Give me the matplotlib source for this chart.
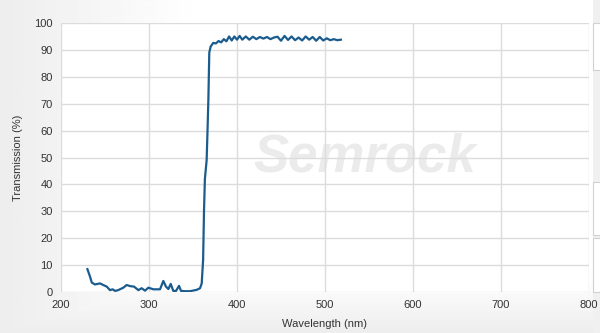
import numpy as np
import matplotlib
matplotlib.use('Agg')
import matplotlib.pyplot as plt
from matplotlib.patches import Rectangle

# transmission spectrum
wavelength = [230, 233, 235, 238.6, 244.3, 248, 252, 255.7, 258.7, 261.4, 265, 270.8, 274.6,
              278.4, 283, 287.9, 291.7, 295.5, 299.3, 305, 312.5, 316.3, 319.3, 322, 324.7,
              327.6, 330.7, 334.1, 336.4, 341, 346.6, 354.2, 358, 359.9, 361.5, 362.5, 363.5,
              365.5, 366.5, 367.5, 368.5, 370, 373, 376, 379, 382, 385, 388, 391,
              394, 397, 400, 403, 406, 410, 414, 418, 422, 426, 430, 434, 438, 442,
              446, 450, 454, 458, 462, 466, 470, 474, 478, 482, 486, 490, 494, 498, 502, 506,
              510, 514, 518]
transmission = [8.5, 5.7, 3.5, 2.8, 3.2, 2.6, 2.0, 0.7, 1.0, 0.4, 0.7, 1.6, 2.6,
                2.2, 2.0, 0.7, 1.4, 0.5, 1.6, 1.0, 1.0, 4.1, 2.0, 1.1, 3.0,
                0.4, 0.4, 2.3, 0.4, 0.3, 0.3, 0.8, 1.4, 3.2, 12, 30, 42,
                49, 60, 72, 89, 91.2, 92.6, 92.4, 93.3, 92.8, 94.0, 93.2, 95.0,
                93.5, 95.0, 93.8, 95.2, 93.8, 95.0, 93.8, 94.9, 94.0, 94.8, 94.2, 94.8, 94.0, 94.6,
                94.9, 93.4, 95.2, 93.7, 95.0, 93.6, 94.6, 93.5, 95.0, 93.8, 94.8, 93.4, 94.8, 93.5, 94.3, 93.6,
                94.0, 93.6, 93.8]

xticks = [200, 300, 400, 500, 600, 700, 800]
yticks = [0, 10, 20, 30, 40, 50, 60, 70, 80, 90, 100]

plt.rcParams['font.family'] = ['Liberation Sans', 'DejaVu Sans']

fig = plt.figure(figsize=(6, 3.33), dpi=100)

# soft gray background, lighter toward the right
bg = fig.add_axes([0, 0, 1, 1], zorder=-10)
gx = np.linspace(0, 1, 300)
gy = np.linspace(0, 1, 200)
GX, GY = np.meshgrid(gx, gy)
shade = 0.93 + 0.07 * np.clip(np.minimum(GX * 3.0, (1 - GY) * 6.0), 0, 1)
bg.imshow(shade, cmap='gray', vmin=0, vmax=1, extent=[0, 1, 0, 1], aspect='auto')
bg.set_axis_off()

ax = fig.add_axes([61 / 600, 1 - 292 / 333, 528 / 600, 269 / 333])
ax.set_facecolor('white')
ax.plot(wavelength, transmission, color='#1b5c8e', lw=1.6, zorder=3)

ax.text(545, 50, 'Semrock', fontsize=38, fontweight='bold', style='italic',
        color='#ebebeb', ha='center', va='center', zorder=1)

ax.set_xlim(200, 800)
ax.set_ylim(0, 100)
ax.set_xticks(xticks)
ax.set_yticks(yticks)
ax.grid(True, color='#dcdcdc', lw=1)
ax.tick_params(length=0, labelsize=8, colors='#333333', pad=6)
for s in ax.spines.values():
    s.set_visible(False)
ax.set_xlabel('Wavelength (nm)', fontsize=8, color='#333333', labelpad=6)
ax.set_ylabel('Transmission (%)', fontsize=8, color='#333333', labelpad=8)

# side panel on the right edge
fig.patches.append(Rectangle((593 / 600, 0), 7 / 600, 1, transform=fig.transFigure,
                             facecolor='#f0f0f0', edgecolor='none', zorder=-5))
for y0, y1 in [(23, 70), (182, 235), (238, 292)]:
    fig.patches.append(Rectangle((593 / 600, 1 - y1 / 333), 10 / 600, (y1 - y0) / 333,
                                 transform=fig.transFigure, facecolor='white',
                                 edgecolor='#d0d0d0', lw=0.8, zorder=-4))

fig.savefig('out.png', dpi=100)
